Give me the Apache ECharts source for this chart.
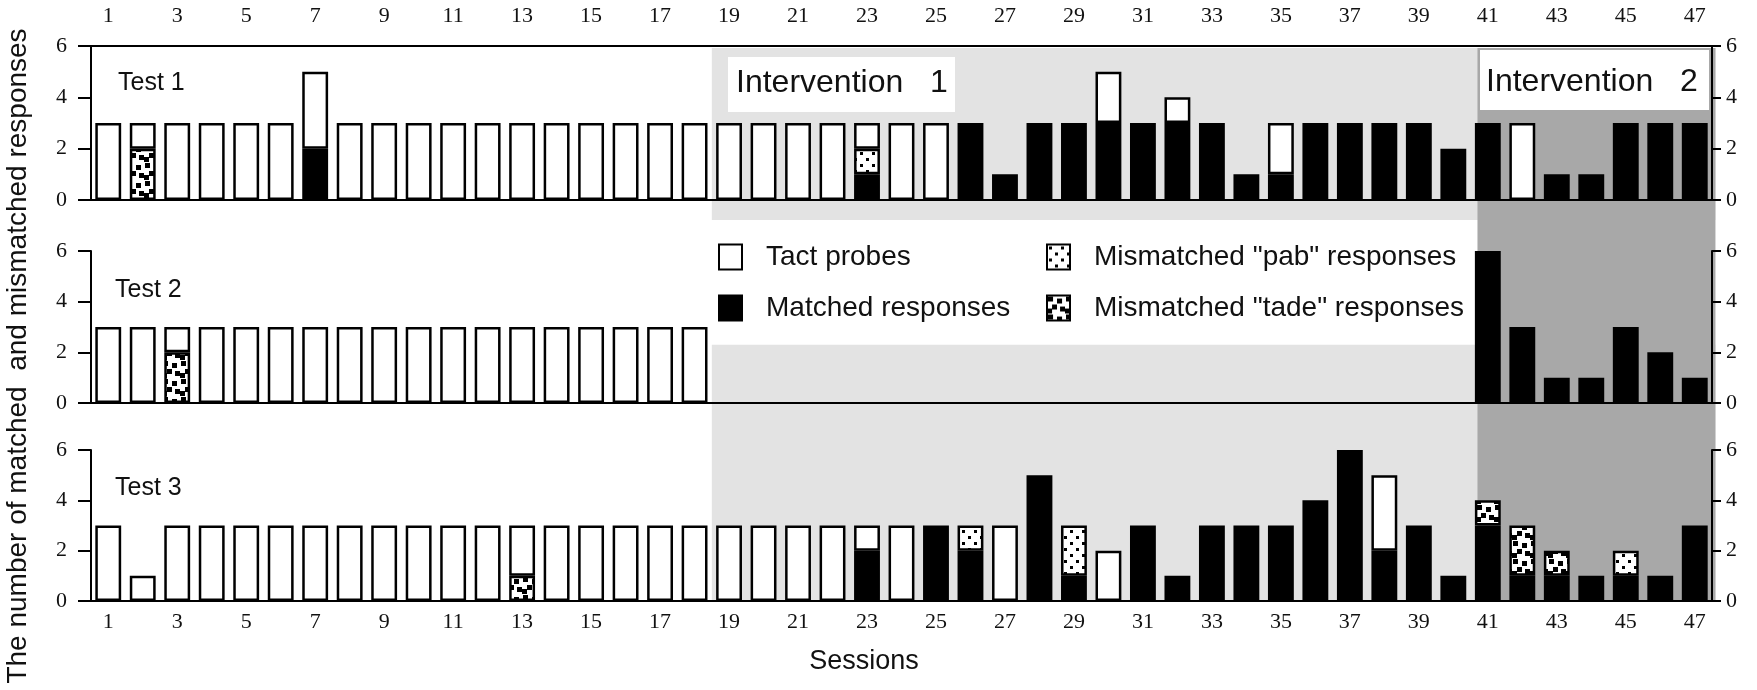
<!DOCTYPE html>
<html>
<head>
<meta charset="utf-8">
<script src="https://cdn.jsdelivr.net/npm/echarts@6/dist/echarts.min.js"></script>
<style>
  html, body { margin: 0; padding: 0; background: #fff; }
  #chart { width: 1757px; height: 690px; }
</style>
</head>
<body>
<div id="chart"></div>
<script>
// Sessions (categories on the shared x axis)
const sessions = ['1','2','3','4','5','6','7','8','9','10','11','12','13','14','15','16','17','18','19','20',
  '21','22','23','24','25','26','27','28','29','30','31','32','33','34','35','36','37','38','39','40',
  '41','42','43','44','45','46','47'];

// Phase boundaries in session units
const intervention1Start = 18.5;
const intervention2Start = 40.7;
const phaseEnd = 47.6;

// Test 1: tact probes per session and how they were answered
const test1Probes   = [3,3,3,3,3,3,5,3,3,3, 3,3,3,3,3,3,3,3,3,3, 3,3,3,3,3,3,1,3,3,5, 3,4,3,1,3,3,3,3,3,2, 3,3,1,1,3,3,3];
const test1Matched  = [0,0,0,0,0,0,2,0,0,0, 0,0,0,0,0,0,0,0,0,0, 0,0,1,0,0,3,1,3,3,3, 3,3,3,1,1,3,3,3,3,2, 3,0,1,1,3,3,3];
const test1Pab      = [0,0,0,0,0,0,0,0,0,0, 0,0,0,0,0,0,0,0,0,0, 0,0,1,0,0,0,0,0,0,0, 0,0,0,0,0,0,0,0,0,0, 0,0,0,0,0,0,0];
const test1Tade     = [0,2,0,0,0,0,0,0,0,0, 0,0,0,0,0,0,0,0,0,0, 0,0,0,0,0,0,0,0,0,0, 0,0,0,0,0,0,0,0,0,0, 0,0,0,0,0,0,0];

// Test 2
const test2Probes   = [3,3,3,3,3,3,3,3,3,3, 3,3,3,3,3,3,3,3,null,null,
  null,null,null,null,null,null,null,null,null,null, null,null,null,null,null,null,null,null,null,null, 6,3,1,1,3,2,1];
const test2Matched  = [0,0,0,0,0,0,0,0,0,0, 0,0,0,0,0,0,0,0,0,0, 0,0,0,0,0,0,0,0,0,0, 0,0,0,0,0,0,0,0,0,0, 6,3,1,1,3,2,1];
const test2Pab      = [0,0,0,0,0,0,0,0,0,0, 0,0,0,0,0,0,0,0,0,0, 0,0,0,0,0,0,0,0,0,0, 0,0,0,0,0,0,0,0,0,0, 0,0,0,0,0,0,0];
const test2Tade     = [0,0,2,0,0,0,0,0,0,0, 0,0,0,0,0,0,0,0,0,0, 0,0,0,0,0,0,0,0,0,0, 0,0,0,0,0,0,0,0,0,0, 0,0,0,0,0,0,0];

// Test 3
const test3Probes   = [3,1,3,3,3,3,3,3,3,3, 3,3,3,3,3,3,3,3,3,3, 3,3,3,3,3,3,3,5,3,2, 3,1,3,3,3,4,6,5,3,1, 4,3,2,1,2,1,3];
const test3Matched  = [0,0,0,0,0,0,0,0,0,0, 0,0,0,0,0,0,0,0,0,0, 0,0,2,0,3,2,0,5,1,0, 3,1,3,3,3,4,6,2,3,1, 3,1,1,1,1,1,3];
const test3Pab      = [0,0,0,0,0,0,0,0,0,0, 0,0,0,0,0,0,0,0,0,0, 0,0,0,0,0,1,0,0,2,0, 0,0,0,0,0,0,0,0,0,0, 0,0,0,0,1,0,0];
const test3Tade     = [0,0,0,0,0,0,0,0,0,0, 0,0,1,0,0,0,0,0,0,0, 0,0,0,0,0,0,0,0,0,0, 0,0,0,0,0,0,0,0,0,0, 1,2,1,0,0,0,0];

const panelTitles = ['Test 1', 'Test 2', 'Test 3'];
const legendNames = ['Tact probes', 'Matched responses', 'Mismatched "pab" responses', 'Mismatched "tade" responses'];

// Dot fills for the mismatched responses
function makePattern(size, cells, w, h) {
  const c = document.createElement('canvas');
  c.width = size; c.height = size;
  const g = c.getContext('2d');
  g.fillStyle = '#fff';
  g.fillRect(0, 0, size, size);
  g.fillStyle = '#000';
  cells.forEach(([x, y]) => g.fillRect(x, y, w, h));
  return { image: c, repeat: 'repeat' };
}
const pabFill = makePattern(12, [[2, 2], [8, 8]], 3, 3);
const tadeFill = makePattern(18, [[1, 1], [10, 3], [5, 9], [13, 11], [0, 13]], 5, 5);

const SERIF = '"Liberation Serif", "Times New Roman", serif';
const SANS = '"Liberation Sans", Arial, Helvetica, sans-serif';
const INK = '#111';
const EDGE = 2.5;

const grids = [
  { left: 91, right: 45, top: 46, height: 154 },
  { left: 91, right: 45, top: 251, height: 152 },
  { left: 91, right: 45, top: 450, height: 151 }
];

function catAxis(gridIndex, position, showLabels, tickLen, labelMargin) {
  return {
    type: 'category', gridIndex, position, data: sessions,
    axisLine: { onZero: false, lineStyle: { color: '#000', width: 2 } },
    axisTick: { alignWithLabel: true, interval: 1, length: tickLen, lineStyle: { color: '#000', width: 2 } },
    axisLabel: { show: showLabels, interval: 1, margin: labelMargin, color: INK, fontFamily: SERIF, fontSize: 22 },
    splitLine: { show: false }
  };
}
function valAxis(gridIndex, position) {
  const left = position === 'left';
  return {
    type: 'value', gridIndex, position, min: 0, max: 6, interval: 2,
    axisLine: { show: true, onZero: false, lineStyle: { color: '#000', width: 2 } },
    axisTick: { show: true, length: left ? 13 : 9, lineStyle: { color: '#000', width: 2 } },
    axisLabel: { margin: left ? 24 : 14, color: INK, fontFamily: SERIF, fontSize: 22 },
    splitLine: { show: false }
  };
}

const xAxes = [
  catAxis(0, 'top', true, 11, 19),
  catAxis(0, 'bottom', false, 12, 8),
  catAxis(1, 'bottom', false, 12, 8),
  catAxis(2, 'bottom', true, 13, 10)
];
const yAxes = [
  valAxis(0, 'left'), valAxis(0, 'right'),
  valAxis(1, 'left'), valAxis(1, 'right'),
  valAxis(2, 'left'), valAxis(2, 'right')
];

const tests = [
  { probes: test1Probes, matched: test1Matched, pab: test1Pab, tade: test1Tade, xAxisIndex: 1 },
  { probes: test2Probes, matched: test2Matched, pab: test2Pab, tade: test2Tade, xAxisIndex: 2 },
  { probes: test3Probes, matched: test3Matched, pab: test3Pab, tade: test3Tade, xAxisIndex: 3 }
];

const seg = arr => arr.map(v => (v ? v : '-'));
const series = [];
tests.forEach((t, k) => {
  const remainder = t.probes.map((p, i) => {
    if (p == null) return '-';
    const r = p - t.matched[i] - t.pab[i] - t.tade[i];
    return r > 0 ? r : '-';
  });
  const base = {
    type: 'bar', stack: 'test' + k, xAxisIndex: t.xAxisIndex, yAxisIndex: k * 2,
    barWidth: '75%', silent: true, emphasis: { disabled: true }
  };
  series.push(Object.assign({}, base, { name: legendNames[1], data: seg(t.matched),
    itemStyle: { color: '#000', borderColor: '#000', borderWidth: EDGE } }));
  series.push(Object.assign({}, base, { name: legendNames[2], data: seg(t.pab),
    itemStyle: { color: pabFill, borderColor: '#000', borderWidth: EDGE } }));
  series.push(Object.assign({}, base, { name: legendNames[3], data: seg(t.tade),
    itemStyle: { color: tadeFill, borderColor: '#000', borderWidth: EDGE } }));
  series.push(Object.assign({}, base, { name: legendNames[0], data: remainder,
    itemStyle: { color: '#fff', borderColor: '#000', borderWidth: EDGE } }));
});

const legendCommon = {
  orient: 'vertical', top: 243, padding: 0, itemWidth: 23, itemHeight: 25, itemGap: 23,
  selectedMode: false, icon: 'rect',
  textStyle: { fontFamily: SANS, fontSize: 28, color: INK, padding: [0, 0, 0, 19] }
};

const chart = echarts.init(document.getElementById('chart'), null, { renderer: 'canvas' });
chart.setOption({
  animation: false,
  backgroundColor: '#fff',
  grid: grids,
  xAxis: xAxes,
  yAxis: yAxes,
  legend: [
    Object.assign({}, legendCommon, { left: 718, data: [legendNames[0], legendNames[1]] }),
    Object.assign({}, legendCommon, { left: 1046, data: [legendNames[2], legendNames[3]] })
  ],
  series
});

// Phase shading and annotations, placed through the axis scales
const c0 = chart.convertToPixel({ xAxisIndex: 3 }, 0);
const c46 = chart.convertToPixel({ xAxisIndex: 3 }, 46);
const X = v => c0 + (v - 1) * (c46 - c0) / 46;
const Y = (panel, v) => chart.convertToPixel({ yAxisIndex: panel * 2 }, v);

const LIGHT = '#e3e3e3';
const DARK = '#a8a8a8';
const rect = (x1, y1, x2, y2, fill, z) => ({
  type: 'rect', silent: true, z,
  shape: { x: x1, y: y1, width: x2 - x1, height: y2 - y1 },
  style: { fill }
});
const text = (x, y, str, size, align) => ({
  type: 'text', silent: true, z: -1, x, y,
  style: { text: str, fontFamily: SANS, fontSize: size, fill: INK, textAlign: align || 'left', textVerticalAlign: 'middle' }
});

const graphics = [
  rect(X(intervention1Start), Y(0, 6) + 2, X(phaseEnd), Y(0, 0) + 20, LIGHT, -10),
  rect(X(intervention1Start), Y(1, 2.3), X(phaseEnd), Y(2, 0), LIGHT, -10),
  rect(X(intervention2Start), Y(0, 6) + 2, X(phaseEnd), Y(2, 0), DARK, -9),
  rect(728, 57, 955, 112, '#fff', -5),
  rect(1480, 50, 1709, 110, '#fff', -5),
  text(736, 83, 'Intervention   1', 32),
  text(1486, 82, 'Intervention   2', 32),
  text(118, 83, panelTitles[0], 25),
  text(115, 290, panelTitles[1], 25),
  text(115, 488, panelTitles[2], 25),
  text(864, 662, 'Sessions', 27, 'center'),
  {
    type: 'text', silent: true, x: 18, y: 356, rotation: Math.PI / 2,
    style: { text: 'The number of matched  and mismatched responses', fontFamily: SANS, fontSize: 28,
      fill: INK, textAlign: 'center', textVerticalAlign: 'middle' }
  }
];
chart.setOption({ graphic: { elements: graphics } });
</script>
</body>
</html>
